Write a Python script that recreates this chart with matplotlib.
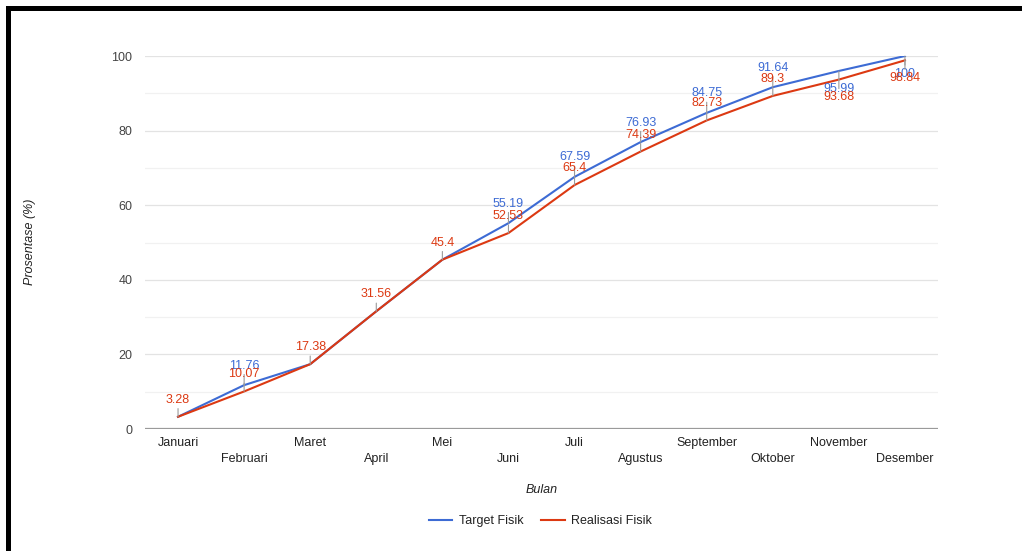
import matplotlib
matplotlib.use("Agg")
import matplotlib.pyplot as plt
from matplotlib.patches import Rectangle

plt.rcParams['font.family'] = ['Liberation Sans', 'DejaVu Sans']

# Monthly cumulative physical progress (%)
bulan = ["Januari", "Februari", "Maret", "April", "Mei", "Juni", "Juli",
         "Agustus", "September", "Oktober", "November", "Desember"]
target_fisik = [3.28, 11.76, 17.38, 31.56, 45.4, 55.19, 67.59, 76.93, 84.75, 91.64, 95.99, 100]
realisasi_fisik = [3.28, 10.07, 17.38, 31.56, 45.4, 52.53, 65.4, 74.39, 82.73, 89.3, 93.68, 98.84]
y_ticks = [0, 20, 40, 60, 80, 100]

BLUE = "#3d6bd4"
RED = "#dc3912"
W, H = 1022, 551
fig = plt.figure(figsize=(W / 100, H / 100), dpi=100)
fig.patch.set_facecolor("white")

ax = fig.add_axes([145 / W, (H - 429) / H, 793 / W, 373 / H])
x = list(range(len(bulan)))

# grid: major every 20, minor every 10
for v in range(10, 101, 10):
    ax.axhline(v, color="#e3e3e3" if v % 20 == 0 else "#f1f1f1", lw=0.9, zorder=0)
ax.axhline(0, color="#9a9a9a", lw=1.6, zorder=1)

ax.plot(x, target_fisik, color=BLUE, lw=1.5, label="Target Fisik", zorder=3,
        solid_joinstyle="round")
ax.plot(x, realisasi_fisik, color=RED, lw=1.5, label="Realisasi Fisik", zorder=4,
        solid_joinstyle="round")

# value annotations with short grey stems; last two months are labelled below
for i in x:
    below = i >= 10
    for vals, col, show, off in (
            (target_fisik, BLUE, target_fisik[i] != realisasi_fisik[i], 12.8 if below else 14.0),
            (realisasi_fisik, RED, True, 12.8 if below else 12.2)):
        v = vals[i]
        if not show:
            continue
        ax.annotate(f"{v:g}", xy=(i, v), xytext=(0, -off if below else off),
                    textcoords="offset points", ha="center", va="center",
                    fontsize=9, color=col, zorder=6,
                    arrowprops=dict(arrowstyle="-", color="#9a9a9a", lw=0.8,
                                    shrinkA=0, shrinkB=0))

ax.set_xlim(-0.5, len(bulan) - 0.5)
ax.set_ylim(0, 100)
for s in ax.spines.values():
    s.set_visible(False)

ax.set_xticks(x)
ax.set_xticklabels([b if i % 2 == 0 else "\n" + b for i, b in enumerate(bulan)],
                   fontsize=9, color="#222222", linespacing=1.4)
ax.tick_params(axis="x", length=0, pad=6)
ax.set_yticks(y_ticks)
ax.set_yticklabels([str(v) for v in y_ticks], fontsize=9, color="#444444")
ax.tick_params(axis="y", length=0, pad=9)

fig.text(30 / W, 1 - 242 / H, "Prosentase (%)", rotation=90, style="italic",
         fontsize=9, color="#222222", ha="center", va="center")
fig.text(541.5 / W, 1 - 490 / H, "Bulan", style="italic", fontsize=9,
         color="#222222", ha="center", va="center")

fig.legend(loc="center", bbox_to_anchor=(540.5 / W, 1 - 521 / H), ncol=2,
           frameon=False, fontsize=9, handlelength=1.85, handletextpad=0.55,
           columnspacing=1.45, labelcolor="#222222")

# black frame on the left and top edges
fig.patches.append(Rectangle((6 / W, 0), 5 / W, (H - 6) / H, transform=fig.transFigure,
                             facecolor="black", edgecolor="none", zorder=10))
fig.patches.append(Rectangle((6 / W, (H - 11) / H), (W - 6) / W, 5 / H,
                             transform=fig.transFigure, facecolor="black",
                             edgecolor="none", zorder=10))

fig.savefig("out.png", dpi=100, facecolor="white")
